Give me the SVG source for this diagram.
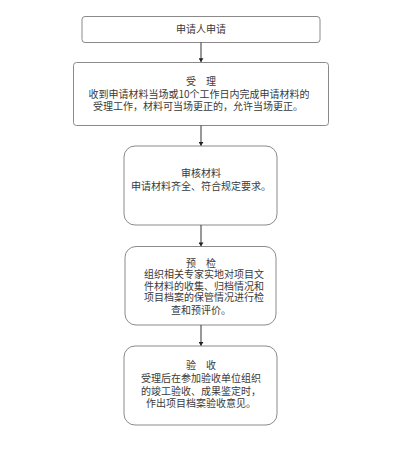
<svg xmlns="http://www.w3.org/2000/svg" width="407" height="459" viewBox="0 0 407 459">
<style>
.box{fill:#fff;stroke:#8a8a8a;stroke-width:1}
.t{font-family:"Noto Sans CJK SC","Liberation Serif",serif;font-size:10px;fill:#3a3a3a;text-anchor:middle}
.c{stroke:#333;stroke-width:1;fill:none}
</style>
<defs>
<marker id="ah" viewBox="0 0 6 8" refX="6" refY="4" markerWidth="4" markerHeight="5" orient="auto" markerUnits="userSpaceOnUse">
<path d="M0,0 L6,4 L0,8 z" fill="#222"/>
</marker>
</defs>
<rect width="407" height="459" fill="#fff"/>
<g id="n1">
<rect class="box" x="82" y="16.5" width="238" height="26" rx="3"/>
<text class="t" x="201" y="33">申请人申请</text>
</g>
<g id="n2">
<rect class="box" x="73.5" y="62.5" width="255" height="63" rx="3"/>
<text class="t"><tspan x="201" y="84.8">受　理</tspan><tspan x="199" y="98">收到申请材料当场或10个工作日内完成申请材料的</tspan><tspan x="198" y="110">受理工作，材料可当场更正的，允许当场更正。</tspan></text>
</g>
<g id="n3">
<rect class="box" x="124" y="146" width="153" height="79" rx="11"/>
<text class="t"><tspan x="201" y="177">审核材料</tspan><tspan x="201" y="189.5">申请材料齐全、符合规定要求。</tspan></text>
</g>
<g id="n4">
<rect class="box" x="125" y="246.5" width="151" height="78.5" rx="11"/>
<text class="t"><tspan x="201" y="266.5">预　检</tspan><tspan x="204" y="278">组织相关专家实地对项目文</tspan><tspan x="204" y="289.5">件材料的收集、归档情况和</tspan><tspan x="204" y="301">项目档案的保管情况进行检</tspan><tspan x="201" y="313.5">查和预评价。</tspan></text>
</g>
<g id="n5">
<rect class="box" x="124" y="346" width="153" height="79" rx="11"/>
<text class="t"><tspan x="201" y="369">验　收</tspan><tspan x="201" y="382">受理后在参加验收单位组织</tspan><tspan x="201" y="394.5">的竣工验收、成果鉴定时，</tspan><tspan x="201" y="406.5">作出项目档案验收意见。</tspan></text>
</g>
<g id="connectors">
<line class="c" x1="201" y1="42.5" x2="201" y2="62" marker-end="url(#ah)"/>
<line class="c" x1="201" y1="125.5" x2="201" y2="145.7" marker-end="url(#ah)"/>
<line class="c" x1="201" y1="225" x2="201" y2="246.2" marker-end="url(#ah)"/>
<line class="c" x1="201" y1="325" x2="201" y2="345.7" marker-end="url(#ah)"/>
</g>
</svg>
